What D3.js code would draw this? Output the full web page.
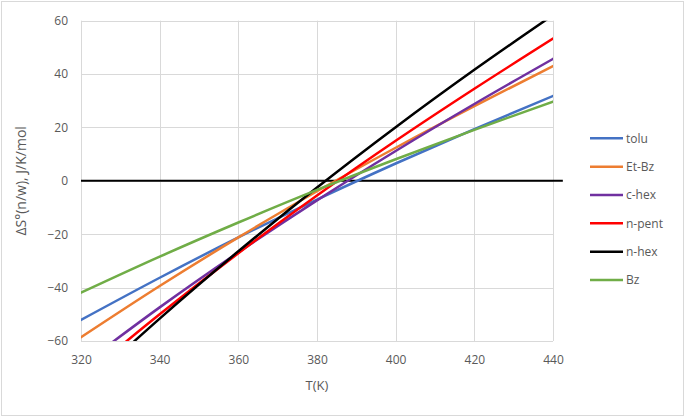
<!DOCTYPE html>
<html>
<head>
<meta charset="utf-8">
<script src="https://cdn.jsdelivr.net/npm/d3@7/dist/d3.min.js"></script>
<style>
  html, body { margin: 0; padding: 0; background: #fff; }
  svg { display: block; }
  text { font-family: "Open Sans", "Liberation Sans", sans-serif; fill: #595959; }
</style>
</head>
<body>
<svg id="chart" width="685" height="417"></svg>
<script>
// ---- data ----
const temps = [320, 340, 360, 380, 400, 420, 440];
const tolu  = [-52.1, -36.3, -21.2, -7.0, 6.5, 19.4, 31.8];
const etBz  = [-58.6, -39.4, -21.2, -3.9, 12.4, 28.0, 43.0];
const cHex  = [-69.3, -47.4, -26.8, -7.3, 11.2, 28.8, 45.7];
const nPent = [-74.2, -50.0, -27.1, -5.5, 15.0, 34.5, 53.3];
const nHex  = [-78.3, -51.6, -26.4, -2.5, 20.1, 41.6, 62.1];
const bz    = [-41.9, -28.4, -15.6, -3.4, 8.1, 19.1, 29.7];
const zeroT = [320, 442.5];
const zeroV = [0, 0];
const xTicks = [320, 340, 360, 380, 400, 420, 440];
const yTicks = [-60, -40, -20, 0, 20, 40, 60];
const seriesNames = ["tolu", "Et-Bz", "c-hex", "n-pent", "n-hex", "Bz"];
const seriesValues = [tolu, etBz, cHex, nPent, nHex, bz];
const seriesColors = ["#4472C4", "#ED7D31", "#7030A0", "#FF0000", "#000000", "#70AD47"];

// ---- layout ----
const svg = d3.select("#chart");
const W = 685, H = 417;
const plot = { left: 81, right: 553, top: 20.7, bottom: 341 };

svg.append("rect").attr("x", 1.5).attr("y", 1.5).attr("width", W - 3).attr("height", H - 3)
  .attr("fill", "#fff").attr("stroke", "#d9d9d9").attr("stroke-width", 1);

const x = d3.scaleLinear().domain([320, 440]).range([plot.left, plot.right]);
const y = d3.scaleLinear().domain([-60, 60]).range([plot.bottom, plot.top]);

// gridlines
const grid = svg.append("g").attr("stroke", "#d9d9d9").attr("stroke-width", 1);
xTicks.forEach(t => {
  grid.append("line").attr("x1", Math.round(x(t)) + 0.5).attr("x2", Math.round(x(t)) + 0.5)
    .attr("y1", plot.top).attr("y2", plot.bottom);
});
yTicks.forEach(t => {
  grid.append("line").attr("y1", Math.round(y(t)) + 0.5).attr("y2", Math.round(y(t)) + 0.5)
    .attr("x1", plot.left).attr("x2", plot.right);
});

// axes labels via d3 axes (no domain/ticks lines)
const xAxis = svg.append("g").attr("transform", `translate(0,${plot.bottom})`)
  .call(d3.axisBottom(x).tickValues(xTicks).tickSize(0).tickPadding(14));
const yAxis = svg.append("g").attr("transform", `translate(${plot.left},0)`)
  .call(d3.axisLeft(y).tickValues(yTicks).tickSize(0).tickPadding(13));
[xAxis, yAxis].forEach(a => {
  a.select(".domain").remove();
  a.selectAll("text").attr("fill", "#595959").style("font-size", "12px")
    .style("font-family", '"Open Sans", "Liberation Sans", sans-serif');
});

// clip
svg.append("defs").append("clipPath").attr("id", "clip").append("rect")
  .attr("x", plot.left).attr("y", plot.top)
  .attr("width", plot.right - plot.left).attr("height", plot.bottom - plot.top);

const line = d3.line().x(d => x(d[0])).y(d => y(d[1])).curve(d3.curveMonotoneX);

// zero line
svg.append("path")
  .datum(zeroT.map((t, i) => [t, zeroV[i]]))
  .attr("d", d3.line().x(d => x(d[0])).y(d => y(d[1])))
  .attr("fill", "none").attr("stroke", "#000").attr("stroke-width", 2);

const lines = svg.append("g").attr("clip-path", "url(#clip)");
seriesValues.forEach((vals, i) => {
  lines.append("path")
    .datum(temps.map((t, j) => [t, vals[j]]))
    .attr("d", line)
    .attr("fill", "none")
    .attr("stroke", seriesColors[i])
    .attr("stroke-width", 2.5)
    .attr("stroke-linecap", "round");
});

// axis titles
svg.append("text").attr("x", (plot.left + plot.right) / 2).attr("y", 390)
  .attr("text-anchor", "middle").style("font-size", "13px").text("T(K)");
svg.append("text").attr("transform", `translate(26,${(plot.top + plot.bottom) / 2}) rotate(-90)`)
  .attr("text-anchor", "middle").style("font-size", "14px").text("ΔS°(n/w), J/K/mol");

// legend
const legend = svg.append("g");
seriesNames.forEach((name, i) => {
  const ly = 138.3 + i * 28.35;
  legend.append("line").attr("x1", 590).attr("x2", 623).attr("y1", ly).attr("y2", ly)
    .attr("stroke", seriesColors[i]).attr("stroke-width", 2.5);
  legend.append("text").attr("x", 626).attr("y", ly).attr("dy", "0.35em")
    .style("font-size", "12px").text(name);
});
</script>
</body>
</html>
